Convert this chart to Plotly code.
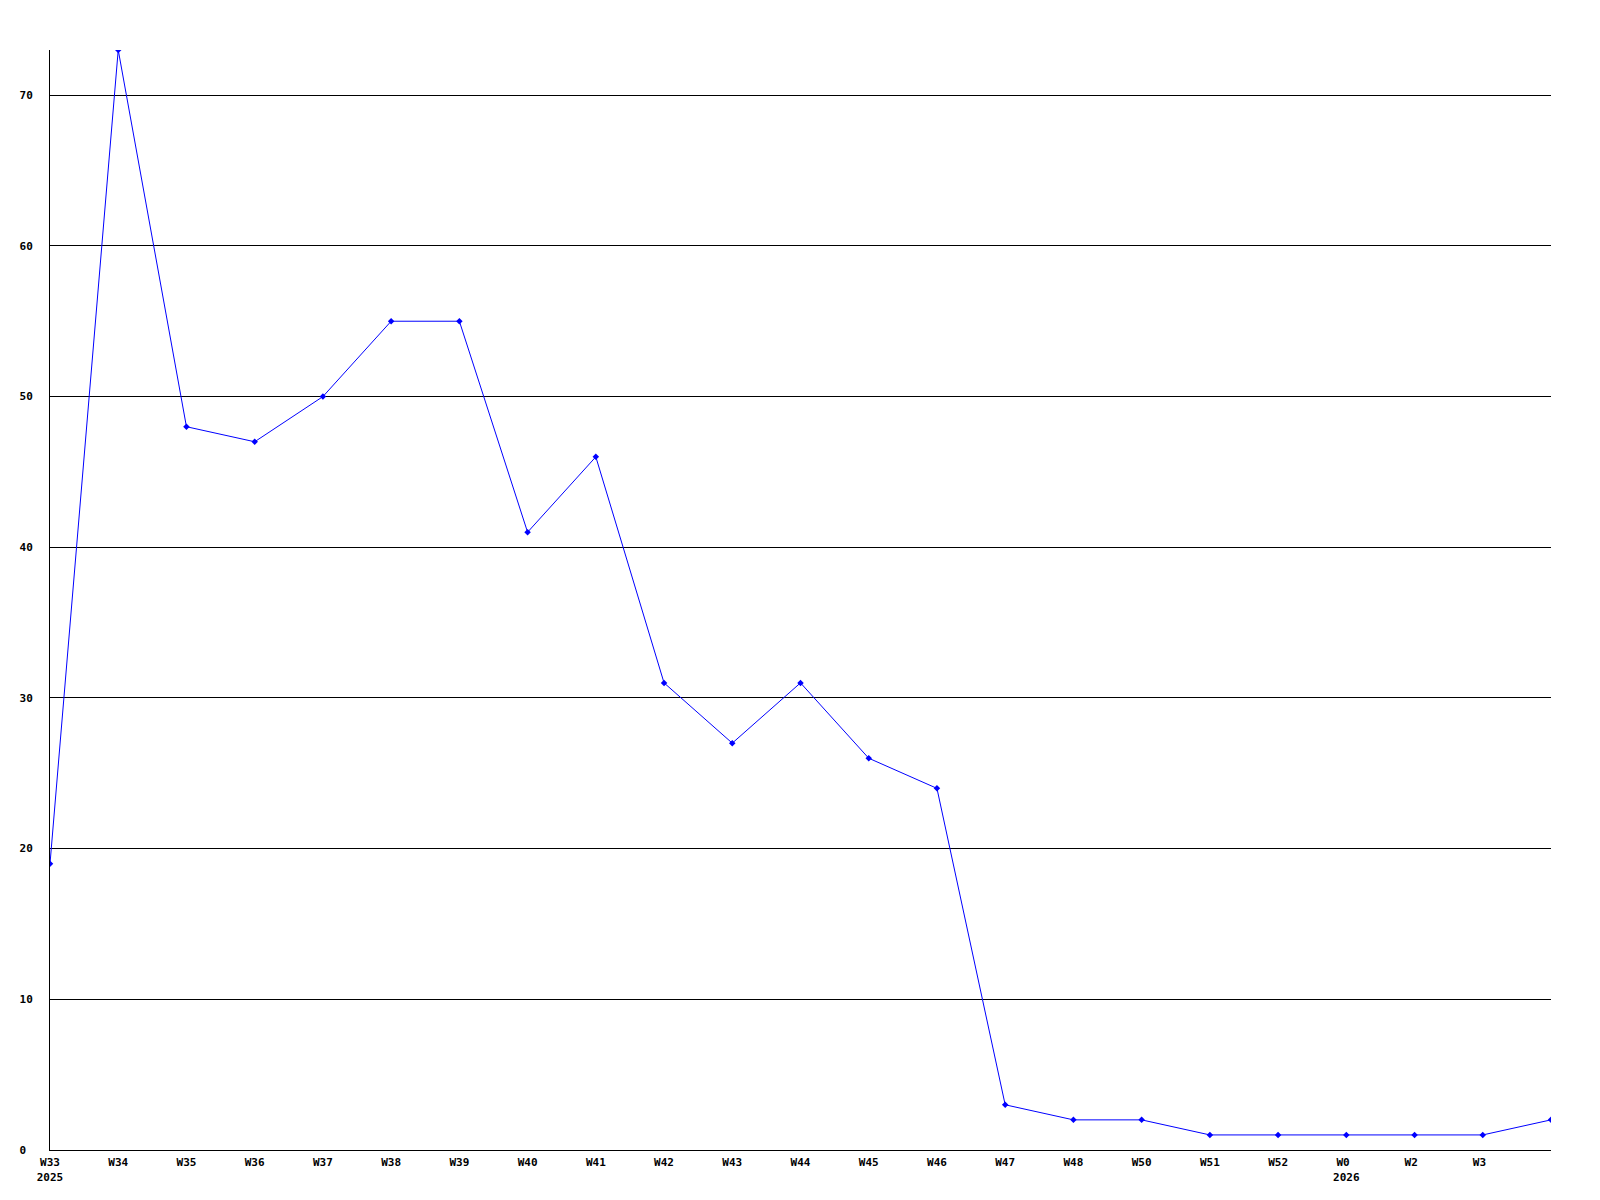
import plotly.graph_objects as go

weeks = ["W33", "W34", "W35", "W36", "W37", "W38", "W39", "W40", "W41", "W42", "W43",
         "W44", "W45", "W46", "W47", "W48", "W50", "W51", "W52", "W0", "W2", "W3", ""]
years = ["2025", "", "", "", "", "", "", "", "", "", "", "", "", "", "", "", "", "", "", "2026", "", "", ""]
values = [19, 73, 48, 47, 50, 55, 55, 41, 46, 31, 27, 31, 26, 24, 3, 2, 2, 1, 1, 1, 1, 1, 2]
y_ticks = [0, 10, 20, 30, 40, 50, 60, 70]

xs = list(range(len(values)))
x_tickvals = xs[:-1]
x_ticktext = []
for w, yr in zip(weeks[:-1], years[:-1]):
    w_pad = w + "\u00a0" * (3 - len(w))
    x_ticktext.append(w_pad + ("<br>" + yr if yr else ""))
y_ticktext = [str(v) + "\u00a0" * (2 - len(str(v))) for v in y_ticks]

tick_font = dict(family="DejaVu Sans Mono", size=11, color="black", weight="bold")

fig = go.Figure()
fig.add_trace(go.Scatter(
    x=xs, y=values, mode="lines+markers",
    line=dict(color="#0000ff", width=1),
    marker=dict(symbol="diamond", size=5, color="#0000ff"),
    hoverinfo="skip",
))

# page body has an 8px default margin; compensate so plot area sits at 50..1551 x 50..1150
fig.update_layout(
    width=1584, height=1188,
    margin=dict(l=42, r=41, t=42, b=42),
    paper_bgcolor="white", plot_bgcolor="white",
    showlegend=False,
    font=dict(family="DejaVu Sans Mono", size=11, color="black"),
)
fig.update_xaxes(
    range=[0, len(values) - 1],
    tickvals=x_tickvals, ticktext=x_ticktext,
    showgrid=False, zeroline=False,
    showline=True, linecolor="black", linewidth=1,
    ticks="", tickfont=tick_font,
    ticklabelstandoff=2,
)
fig.update_yaxes(
    range=[0, 73],
    tickvals=y_ticks, ticktext=y_ticktext,
    showgrid=True, gridcolor="black", gridwidth=1,
    zeroline=False,
    showline=True, linecolor="black", linewidth=1,
    ticks="", tickfont=tick_font,
    ticklabelstandoff=14,
)

fig.write_html("out.html")
